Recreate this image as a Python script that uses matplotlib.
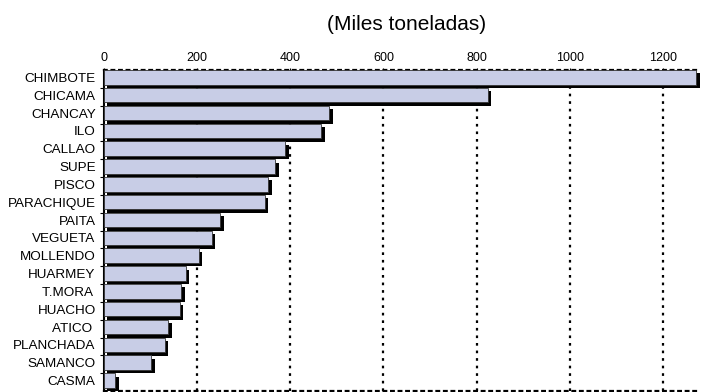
import matplotlib
matplotlib.use("Agg")
import matplotlib.pyplot as plt
import matplotlib.patheffects as pe
import numpy as np

# puertos y desembarque (miles de toneladas)
puertos = ["CHIMBOTE", "CHICAMA", "CHANCAY", "ILO", "CALLAO", "SUPE", "PISCO",
           "PARACHIQUE", "PAITA", "VEGUETA", "MOLLENDO", "HUARMEY", "T.MORA ",
           "HUACHO", "ATICO ", "PLANCHADA", "SAMANCO", "CASMA"]
valores = [1272, 824, 484, 467, 389, 368, 353, 345, 250, 231, 204, 176, 166,
           163, 138, 131, 102, 24]
ticks_x = [0, 200, 400, 600, 800, 1000, 1200]

plt.rcParams['font.family'] = ['Liberation Sans', 'DejaVu Sans']

fig = plt.figure(figsize=(7.01, 3.92), dpi=100)
ax = fig.add_axes([104 / 701, 1 - 391 / 392, 596 / 701, 321 / 392])

y = np.arange(len(puertos))
bars = ax.barh(y, valores, height=0.82, align='edge', color='#c8cde6',
               edgecolor='#333333', linewidth=0.6, zorder=3)
for b in bars:
    b.set_path_effects([pe.SimplePatchShadow(offset=(2.5, -2.5), shadow_rgbFace='black', alpha=1.0),
                        pe.Normal()])

ax.set_xlim(0, 1280)
ax.set_ylim(len(puertos), 0)

# rejilla punteada
for t in ticks_x[1:]:
    ax.axvline(t, color='black', linestyle=(0, (1.2, 2.2)), linewidth=1.6, zorder=1)

ax.xaxis.tick_top()
ax.set_xticks(ticks_x)
ax.set_xticklabels([str(t) for t in ticks_x], fontsize=9)
ax.tick_params(axis='x', length=3, pad=2.5, direction='inout')

ax.set_yticks(y + 0.42)
ax.set_yticklabels(puertos, fontsize=9.7)
ax.tick_params(axis='y', length=0, pad=6)
ax.set_yticks(np.arange(1, len(puertos)), minor=True)
ax.tick_params(axis='y', which='minor', length=3, width=0.8)

ax.spines['left'].set_linewidth(1.5)
ax.spines['right'].set_visible(False)
for s in ['top', 'bottom']:
    ax.spines[s].set_linestyle((0, (1.2, 2.2)))
    ax.spines[s].set_linewidth(1.6)

fig.text(407 / 701, 1 - 24 / 392, "(Miles toneladas)", fontsize=15, ha='center', va='center')

fig.savefig("out.png", dpi=100)
